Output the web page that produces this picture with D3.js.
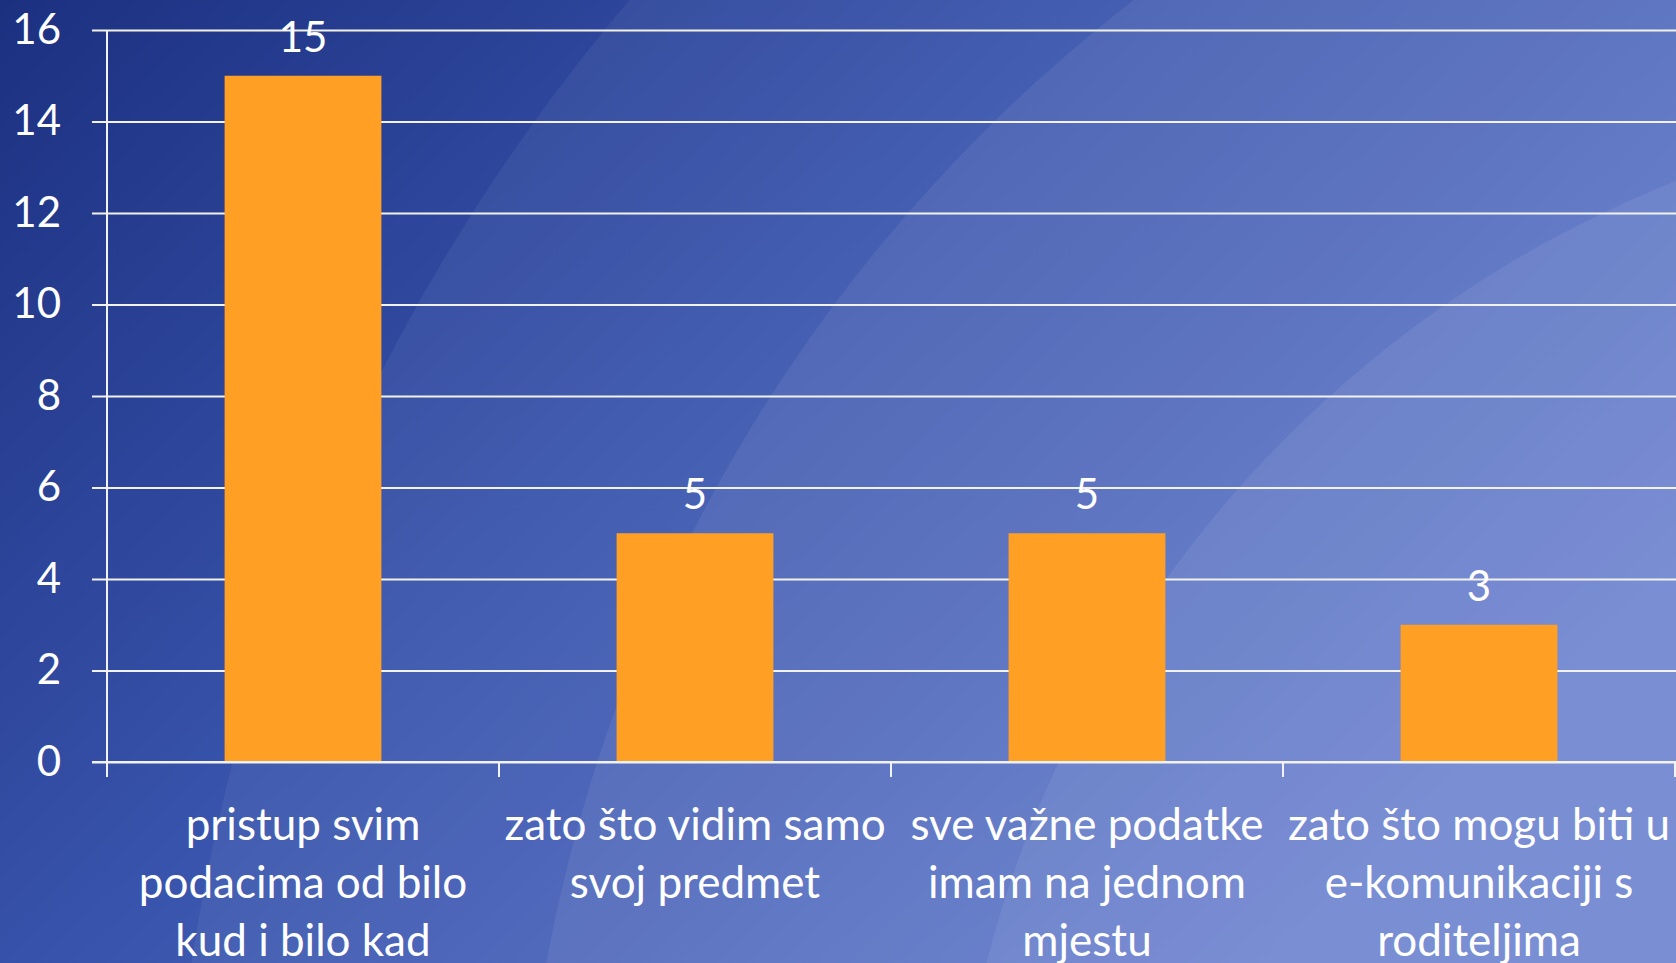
<!DOCTYPE html>
<html>
<head>
<meta charset="utf-8">
<script src="https://cdn.jsdelivr.net/npm/d3@7"></script>
<style>
  html, body { margin: 0; padding: 0; overflow: hidden; background: #22378a; }
  svg { display: block; }
  text { font-family: Lato, "Open Sans", sans-serif; fill: #ffffff; }
</style>
</head>
<body>
<svg id="chart" width="1676" height="963"></svg>
<script>
// ---- data ----
const categories = [
  "pristup svim\npodacima od bilo\nkud i bilo kad",
  "zato što vidim samo\nsvoj predmet",
  "sve važne podatke\nimam na jednom\nmjestu",
  "zato što mogu biti u\ne-komunikaciji s\nroditeljima"
];
const values = [15, 5, 5, 3];
const yTicks = [0, 2, 4, 6, 8, 10, 12, 14, 16];

// ---- layout ----
const W = 1676, H = 963;
const svg = d3.select("#chart");
const defs = svg.append("defs");

const bg = defs.append("linearGradient").attr("id", "bg")
  .attr("x1", "0").attr("y1", "0").attr("x2", "1").attr("y2", "0.6");
bg.append("stop").attr("offset", "0").attr("stop-color", "#1c3080");
bg.append("stop").attr("offset", "0.45").attr("stop-color", "#3752aa");
bg.append("stop").attr("offset", "1").attr("stop-color", "#5e77cc");

svg.append("rect").attr("width", W).attr("height", H).attr("fill", "url(#bg)");

// decorative concentric arcs
const arcs = [
  { r: 1930, o: 0.055 },
  { r: 1580, o: 0.065 },
  { r: 1150, o: 0.07 }
];
svg.append("g").selectAll("circle").data(arcs).join("circle")
  .attr("cx", 2100).attr("cy", 1250)
  .attr("r", d => d.r)
  .attr("fill", "#ffffff")
  .attr("fill-opacity", d => d.o);

const x0 = 107, x1 = 1675, yTop = 30, yBase = 762;

const x = d3.scaleBand()
  .domain(d3.range(categories.length))
  .range([x0, x1])
  .paddingInner(0.6)
  .paddingOuter(0.3);

const y = d3.scaleLinear().domain([0, 16]).range([yBase, yTop]);

// gridlines + y axis labels
const yAxis = d3.axisLeft(y)
  .tickValues(yTicks)
  .tickSize(-(W - x0))
  .tickPadding(46)
  .tickFormat(d3.format("d"));

const gy = svg.append("g").attr("transform", `translate(${x0},0)`).call(yAxis);
gy.select(".domain").remove();
gy.selectAll(".tick line")
  .attr("x1", -15)
  .attr("stroke", "#f2f2f2")
  .attr("stroke-width", 2);
gy.selectAll(".tick text")
  .style("font-size", "42px")
  .attr("fill", "#ffffff");

// bars
svg.append("g").selectAll("rect").data(values).join("rect")
  .attr("x", (d, i) => x(i))
  .attr("y", d => y(d))
  .attr("width", x.bandwidth())
  .attr("height", d => y(0) - y(d))
  .attr("fill", "#ffa024");

// vertical axis line
svg.append("line")
  .attr("x1", x0).attr("x2", x0)
  .attr("y1", y(16)).attr("y2", yBase + 15)
  .attr("stroke", "#f2f2f2").attr("stroke-width", 2);

// x axis ticks at band boundaries
const bounds = d3.range(categories.length + 1).map(i => x0 + i * x.step());
svg.append("g").selectAll("line").data(bounds).join("line")
  .attr("x1", d => d).attr("x2", d => d)
  .attr("y1", yBase).attr("y2", yBase + 15)
  .attr("stroke", "#f2f2f2").attr("stroke-width", 2);

// baseline
svg.append("line")
  .attr("x1", x0 - 15).attr("x2", W)
  .attr("y1", yBase).attr("y2", yBase)
  .attr("stroke", "#f2f2f2").attr("stroke-width", 2);

// data labels
svg.append("g").selectAll("text").data(values).join("text")
  .attr("x", (d, i) => x(i) + x.bandwidth() / 2)
  .attr("y", d => y(d) - 24)
  .attr("text-anchor", "middle")
  .style("font-size", "42px")
  .text(d => d);

// category labels
const cl = svg.append("g").selectAll("text").data(categories).join("text")
  .attr("text-anchor", "middle")
  .style("font-size", "44px");
cl.each(function(d, i) {
  const t = d3.select(this);
  d.split("\n").forEach((line, j) => {
    t.append("tspan")
      .attr("x", x(i) + x.bandwidth() / 2)
      .attr("y", 840 + j * 58)
      .text(line);
  });
});
</script>
</body>
</html>
